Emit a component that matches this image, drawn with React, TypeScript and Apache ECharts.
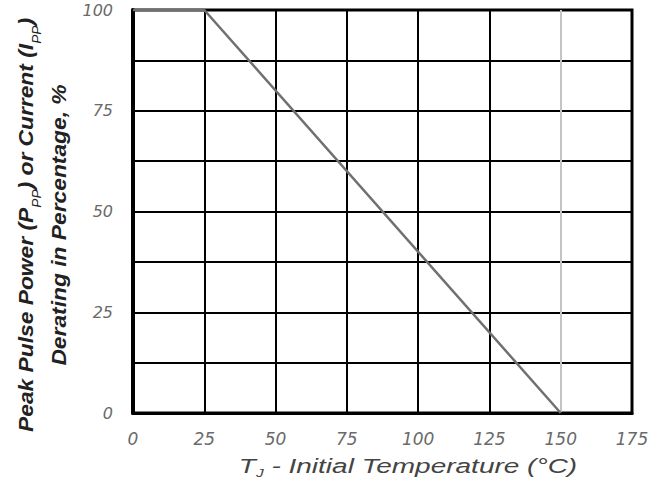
import React, { useEffect, useRef } from "react";
import * as echarts from "echarts";

const TEMPERATURE = [0, 25, 150];
const DERATING = [100, 100, 0];
const X_TICKS = [0, 25, 50, 75, 100, 125, 150, 175];
const Y_LABEL_STEP = 25;
const Y_GRID_STEP = 12.5;

export default function App() {
  const ref = useRef<HTMLDivElement>(null);
  useEffect(() => {
    if (!ref.current) return;
    const chart = echarts.init(ref.current, null, { renderer: "svg" });
    const font = "'Liberation Sans', Arial, sans-serif";
    const tickFont = "'DejaVu Sans', sans-serif";
    const xSplitColors = X_TICKS.map((t) => (t === 150 ? "#c4c4c4" : "#000"));
    chart.setOption({
      animation: false,
      backgroundColor: "#fff",
      grid: {
        left: 133,
        right: 36,
        top: 10,
        bottom: 69,
        show: true,
        borderColor: "#000",
        borderWidth: 3,
        backgroundColor: "transparent",
      },
      xAxis: {
        type: "value",
        min: X_TICKS[0],
        max: X_TICKS[X_TICKS.length - 1],
        interval: 25,
        axisLine: { show: true, lineStyle: { color: "#000", width: 3 } },
        axisTick: { show: false },
        splitLine: { show: true, lineStyle: { color: xSplitColors, width: 2 } },
        axisLabel: {
          margin: 17,
          color: "#6a6a6a",
          fontStyle: "italic",
          fontFamily: tickFont,
          fontSize: 17,
          showMinLabel: true,
          showMaxLabel: true,
        },
      },
      yAxis: {
        type: "value",
        min: 0,
        max: 100,
        interval: Y_GRID_STEP,
        axisLine: { show: true, lineStyle: { color: "#000", width: 4 } },
        axisTick: { show: false },
        splitLine: { show: true, lineStyle: { color: "#000", width: 2 } },
        axisLabel: {
          margin: 20,
          color: "#6a6a6a",
          fontStyle: "italic",
          fontFamily: tickFont,
          fontSize: 16,
          formatter: (v: number) => (v % Y_LABEL_STEP === 0 ? String(v) : ""),
        },
      },
      series: [
        {
          type: "line",
          data: TEMPERATURE.map((t, i) => [t, DERATING[i]]),
          symbol: "none",
          clip: false,
          z: 10,
          lineStyle: { color: "#707070", width: 2.5 },
        },
      ],
      graphic: [
        {
          type: "text",
          x: 43,
          y: 225,
          rotation: Math.PI / 2,
          scaleX: 1.14,
          scaleY: 1,
          style: {
            text:
              "{n|Peak Pulse Power (P}{s|PP}{n|) or Current (I}{s|PP}{n|)}\n{n|Derating in Percentage, %}",
            align: "center",
            verticalAlign: "middle",
            fill: "#222",
            rich: {
              n: {
                fontSize: 20,
                fontStyle: "italic",
                fontWeight: "bold",
                fontFamily: font,
                fill: "#222",
                lineHeight: 33,
              },
              s: {
                fontSize: 12,
                fontStyle: "italic",
                fontFamily: font,
                fill: "#222",
                lineHeight: 24,
                verticalAlign: "bottom",
              },
            },
          },
        },
        {
          type: "text",
          x: 408,
          y: 466,
          scaleX: 1.4,
          style: {
            text: "{n|T}{s|J}{n| - Initial Temperature (°C)}",
            align: "center",
            verticalAlign: "middle",
            fill: "#444",
            rich: {
              n: {
                fontSize: 20,
                fontStyle: "italic",
                fontFamily: font,
                fill: "#444",
                lineHeight: 26,
              },
              s: {
                fontSize: 11,
                fontStyle: "italic",
                fontFamily: font,
                fill: "#444",
                lineHeight: 20,
                verticalAlign: "bottom",
              },
            },
          },
        },
      ],
    });
    return () => chart.dispose();
  }, []);
  return (
    <div
      ref={ref}
      style={{ position: "fixed", left: 0, top: 0, width: 668, height: 482 }}
    />
  );
}
